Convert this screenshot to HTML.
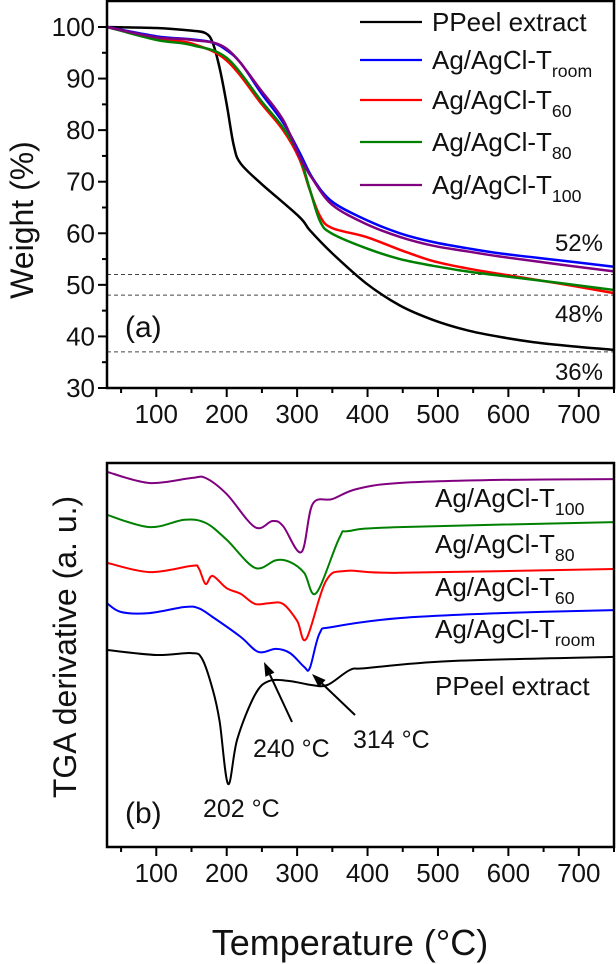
<!DOCTYPE html>
<html><head><meta charset="utf-8"><style>
html,body{margin:0;padding:0;background:#fff;}
svg{display:block;font-family:"Liberation Sans",sans-serif;}
</style></head><body>
<svg id="chart" width="616" height="964" viewBox="0 0 616 964" xmlns="http://www.w3.org/2000/svg"></svg>
<script>
// ---- data ----
const seriesNames = ["PPeel extract","Ag/AgCl-Troom","Ag/AgCl-T60","Ag/AgCl-T80","Ag/AgCl-T100"];
const seriesColors = ["#000000","#0000ff","#ff0000","#008000","#800080"];
// Panel (a): weight (%) vs temperature
const tgaBlackT = [30,100,150,170,180,190,200,210,220,250,303,318,350,398,446,493,541,588,635,690,750];
const tgaBlackW = [100,99.8,99.3,98.8,97,92,85,77,73.5,69.5,63.2,60.6,56.1,50.3,46,43.2,41.2,39.9,38.9,38.1,37.4];
const tgaBlueT = [30,100,150,180,200,220,250,280,303,322,350,398,446,493,541,588,670,750];
const tgaBlueW = [100,98.2,97.6,97,95.5,93,87,81.5,75.8,70.7,66.1,62.6,60,58.3,57.1,56.1,54.8,53.5];
const tgaRedT = [30,100,150,200,250,280,303,318,333,350,398,446,493,541,588,670,750];
const tgaRedW = [100,97.8,96.8,93.5,85,80,74.5,68.4,63.2,61,59.3,56.8,54.6,53.2,52.1,50.3,48.4];
const tgaGreenT = [30,100,150,200,250,280,303,318,333,350,398,446,493,541,588,670,750];
const tgaGreenW = [100,97.5,96.5,94,85.5,80.5,75,68.5,62.2,59.9,57.1,55,53.7,52.6,51.8,50.4,49];
const tgaPurpleT = [30,100,150,200,250,280,303,322,350,398,446,493,541,588,670,750];
const tgaPurpleW = [100,98,97.5,95.8,87.5,82,75,70.5,65.5,61.8,59.3,57.6,56.5,55.5,54,52.6];
const residueLevels = [52,48,37];
const residueLabels = ["52%","48%","36%"];
const weightTicks = [30,40,50,60,70,80,90,100];
const tempTicks = [100,200,300,400,500,600,700];
// Panel (b): derivative (a.u., 0..100 over panel height)
const dtgBlackT = [30,100,150,165,180,190,202,215,240,260,290,320,343,375,398,517,750];
const dtgBlackV = [51.3,50,50.5,49,41.1,32.6,16.4,28.1,39.6,43.2,43.2,42.2,42.2,46.1,46.6,48.4,49.5];
const dtgBlueT = [30,50,90,140,160,180,220,245,270,290,310,318,332,350,445,588,750];
const dtgBlueV = [63.5,61.2,60.9,62.5,62.2,59.9,54.7,50.8,51.6,50.5,46.9,46.6,55.7,57.3,59.6,60.9,61.7];
const dtgRedT = [30,90,150,160,170,180,200,220,240,260,280,300,313,341,370,445,750];
const dtgRedV = [74,71.6,73.2,72.7,68.5,70.6,67.4,65.9,63.3,63.5,63.3,58.9,54.2,69.3,71.9,71.4,72.4];
const dtgGreenT = [30,90,140,170,200,240,270,290,310,327,360,374,445,750];
const dtgGreenV = [86.5,83.3,85.2,84.4,80,72.7,74.7,74.2,71.4,66.1,80.5,82.3,83.3,84.6];
const dtgPurpleT = [30,90,150,170,200,240,265,280,306,322,350,384,445,588,750];
const dtgPurpleV = [97.7,94.8,96.1,96.1,91.9,83.3,84.9,83.6,76.8,89.3,90.6,93.2,94.8,95.6,95.8];

// ---- scales ----
const X0=107, X1=614;
const xs = t => X0 + (t-30)*(X1-X0)/720;
const A_TOP=1, A_BOT=388;
const ya = v => 27 + (100-v)*5.157;
const B_TOP=463, B_BOT=847;
const yb = v => B_BOT - v*3.84;

const svg=document.getElementById('chart');
const NS="http://www.w3.org/2000/svg";
function mk(tag, attrs, parent){
  const e=document.createElementNS(NS,tag);
  for(const k in attrs) e.setAttribute(k,attrs[k]);
  (parent||svg).appendChild(e); return e;
}
function smoothPath(pts){
  let d=`M${pts[0][0].toFixed(1)},${pts[0][1].toFixed(1)}`;
  for(let i=0;i<pts.length-1;i++){
    const p0=pts[Math.max(0,i-1)],p1=pts[i],p2=pts[i+1],p3=pts[Math.min(pts.length-1,i+2)];
    const c1=[p1[0]+(p2[0]-p0[0])/6,p1[1]+(p2[1]-p0[1])/6];
    const c2=[p2[0]-(p3[0]-p1[0])/6,p2[1]-(p3[1]-p1[1])/6];
    d+=` C${c1[0].toFixed(1)},${c1[1].toFixed(1)} ${c2[0].toFixed(1)},${c2[1].toFixed(1)} ${p2[0].toFixed(1)},${p2[1].toFixed(1)}`;
  }
  return d;
}
function txt(x,y,s,size,anchor,name,parent){
  const t=mk('text',{x:x,y:y,'font-size':size,'text-anchor':anchor||'start',fill:'#111'},parent);
  
  
  t.textContent=s; return t;
}
function subTxt(x,y,main,sub,size,name){
  const t=mk('text',{x:x,y:y,'font-size':size,fill:'#111'});
  
  
  t.appendChild(document.createTextNode(main));
  const ts=mk('tspan',{'font-size':size*0.68,dy:size*0.3},t);
  ts.textContent=sub; return t;
}

// ---- panel (a) ----
const ga=mk('g',{});


residueLevels.forEach((v,i)=>{
  const l=mk('line',{x1:X0,x2:X1,y1:ya(v),y2:ya(v),stroke:'#444','stroke-width':1,'stroke-dasharray':'4,3'},ga);
  
  
});
const tgaData=[[tgaBlackT,tgaBlackW],[tgaBlueT,tgaBlueW],[tgaRedT,tgaRedW],[tgaGreenT,tgaGreenW],[tgaPurpleT,tgaPurpleW]];
tgaData.forEach((s,i)=>{
  const pts=s[0].map((t,j)=>[xs(t),ya(s[1][j])]);
  const p=mk('path',{d:smoothPath(pts),fill:'none',stroke:seriesColors[i],'stroke-width':2.5},ga);
  
  
});
const fa=mk('rect',{x:X0,y:A_TOP,width:X1-X0,height:A_BOT-A_TOP,fill:'none',stroke:'#000','stroke-width':2.5},ga);


weightTicks.forEach(v=>{
  mk('line',{x1:X0-9,x2:X0,y1:ya(v),y2:ya(v),stroke:'#000','stroke-width':2},ga);
  if(v<100) mk('line',{x1:X0-5,x2:X0,y1:ya(v+5),y2:ya(v+5),stroke:'#000','stroke-width':2},ga);
  txt(X0-12,ya(v)+9,String(v),26,'end','y-tick-label',ga);
});
// legend
const legY=[22,60,100,142,185];
seriesNames.forEach((n,i)=>{
  const ln=mk('line',{x1:360,x2:422,y1:legY[i],y2:legY[i],stroke:seriesColors[i],'stroke-width':2.2},ga);
  
  
});
txt(432,31,"PPeel extract",26,'start','legend-entry',ga);
subTxt(432,69,"Ag/AgCl-T","room",26,'legend-entry');
subTxt(432,109,"Ag/AgCl-T","60",26,'legend-entry');
subTxt(432,151,"Ag/AgCl-T","80",26,'legend-entry');
subTxt(432,194,"Ag/AgCl-T","100",26,'legend-entry');
const resY=[251,322,380];
residueLabels.forEach((s,i)=>txt(603,resY[i],s,24,'end','residue-label',ga));
txt(125,337,"(a)",30,'start','panel-a-label',ga);
const wt=txt(0,0,"Weight (%)",32,'middle','y-axis-title-a',ga);
wt.setAttribute('transform','translate(33,220) rotate(-90)');

// ---- panel (b) ----
const gb=mk('g',{});


const dtgData=[[dtgBlackT,dtgBlackV],[dtgBlueT,dtgBlueV],[dtgRedT,dtgRedV],[dtgGreenT,dtgGreenV],[dtgPurpleT,dtgPurpleV]];
dtgData.forEach((s,i)=>{
  const pts=s[0].map((t,j)=>[xs(t),yb(s[1][j])]);
  const p=mk('path',{d:smoothPath(pts),fill:'none',stroke:seriesColors[i],'stroke-width':2},gb);
  
  
});
const fb=mk('rect',{x:X0,y:B_TOP,width:X1-X0,height:B_BOT-B_TOP,fill:'none',stroke:'#000','stroke-width':2.5},gb);


subTxt(435,507,"Ag/AgCl-T","100",26,'curve-label');
subTxt(435,553,"Ag/AgCl-T","80",26,'curve-label');
subTxt(435,596,"Ag/AgCl-T","60",26,'curve-label');
subTxt(435,638,"Ag/AgCl-T","room",26,'curve-label');
txt(435,695,"PPeel extract",26,'start','curve-label',gb);
txt(203,817,"202 °C",25,'start','peak-label-202',gb);
txt(253,757,"240 °C",25,'start','peak-label-240',gb);
txt(353,748,"314 °C",25,'start','peak-label-314',gb);
function arrow(x1,y1,x2,y2,name){
  const g=mk('g',{},gb);
  
  
  const a=Math.atan2(y2-y1,x2-x1);
  const bx=x2-14*Math.cos(a), by=y2-14*Math.sin(a);
  mk('line',{x1:x1,y1:y1,x2:bx,y2:by,stroke:'#000','stroke-width':2},g);
  const px=-Math.sin(a)*5, py=Math.cos(a)*5;
  mk('polygon',{points:`${x2},${y2} ${bx+px},${by+py} ${bx-px},${by-py}`,fill:'#000'},g);
}
arrow(292,722,264,662,'arrow-240');
arrow(355,715,312,674,'arrow-314');
txt(125,823,"(b)",30,'start','panel-b-label',gb);
const dt=txt(0,0,"TGA derivative (a. u.)",32,'middle','y-axis-title-b',gb);
dt.setAttribute('transform','translate(76,647) rotate(-90)');

// x ticks both panels
[[A_BOT,423,'x-tick-label-a'],[B_BOT,882,'x-tick-label-b']].forEach(([yb0,ly,nm])=>{
  tempTicks.forEach(t=>{
    mk('line',{x1:xs(t),x2:xs(t),y1:yb0,y2:yb0+9,stroke:'#000','stroke-width':2});
    txt(xs(t),ly,String(t),26,'middle',nm);
  });
  for(let t=50;t<=750;t+=100) mk('line',{x1:xs(t),x2:xs(t),y1:yb0,y2:yb0+5,stroke:'#000','stroke-width':2});
});
txt(350,955,"Temperature (°C)",36,'middle','x-axis-title');
</script>
</body></html>
